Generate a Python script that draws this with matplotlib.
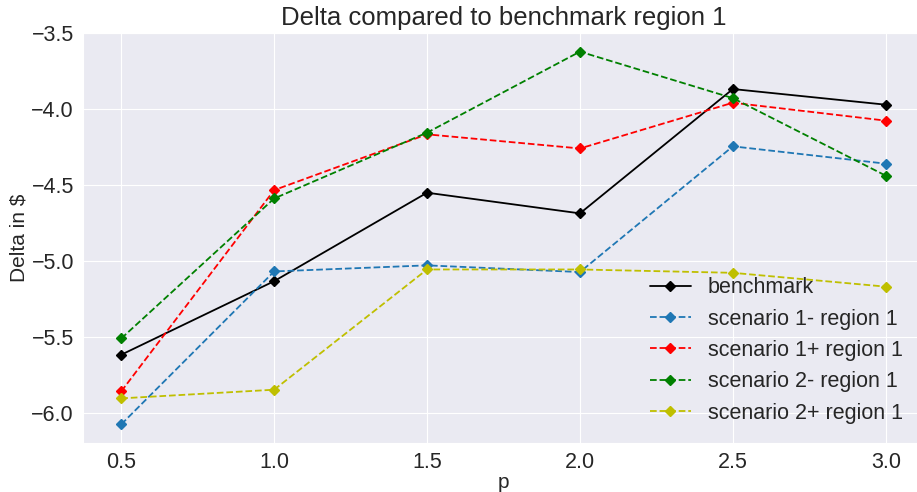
import matplotlib
matplotlib.use("Agg")
import matplotlib.pyplot as plt
import seaborn as sns

sns.set_style("darkgrid")
plt.rcParams['font.family'] = ['Liberation Sans', 'DejaVu Sans']

p = [0.5, 1.0, 1.5, 2.0, 2.5, 3.0]
benchmark = [-5.616, -5.132, -4.55, -4.686, -3.868, -3.971]
s1_minus = [-6.074, -5.068, -5.028, -5.072, -4.245, -4.359]
s1_plus = [-5.857, -4.533, -4.166, -4.259, -3.958, -4.076]
s2_minus = [-5.509, -4.588, -4.155, -3.622, -3.928, -4.438]
s2_plus = [-5.903, -5.846, -5.055, -5.055, -5.077, -5.168]

labels = ["benchmark", "scenario 1- region 1", "scenario 1+ region 1",
          "scenario 2- region 1", "scenario 2+ region 1"]

W, H = 917, 492
fig = plt.figure(figsize=(W / 100, H / 100), dpi=100)
ax = fig.add_axes([83 / W, (H - 443) / H, (924 - 83) / W, (443 - 33) / H])

ax.plot(p, benchmark, color='k', ls='-', marker='D', ms=5, lw=1.3, label=labels[0])
ax.plot(p, s1_minus, color='#1f77b4', ls='--', marker='D', ms=5, lw=1.3, label=labels[1])
ax.plot(p, s1_plus, color='r', ls='--', marker='D', ms=5, lw=1.3, label=labels[2])
ax.plot(p, s2_minus, color='g', ls='--', marker='D', ms=5, lw=1.3, label=labels[3])
ax.plot(p, s2_plus, color='y', ls='--', marker='D', ms=5, lw=1.3, label=labels[4])

ax.set_title("Delta compared to benchmark region 1", fontsize=18.5, color='#262626', pad=6)
ax.set_xlabel("p", fontsize=15, color='#262626', labelpad=0)
ax.set_ylabel("Delta in $", fontsize=15, color='#262626', labelpad=2)
ax.tick_params(labelsize=15.5, colors='#262626', pad=3)
ax.set_xticks(p)
leg = ax.legend(loc='lower right', fontsize=15.5, frameon=False, labelspacing=0.48,
                handlelength=1.9, bbox_to_anchor=(0.998, 0.0))

fig.savefig("out.png", dpi=100)
